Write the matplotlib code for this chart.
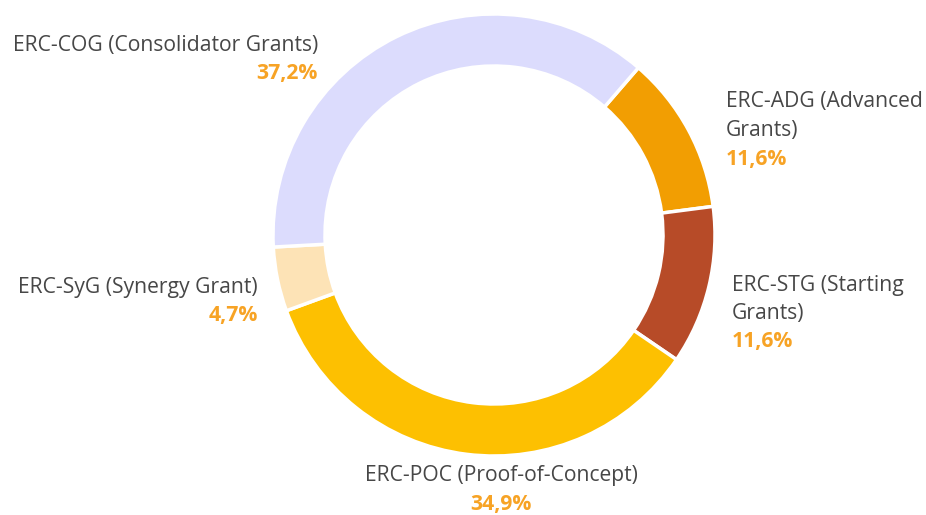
import matplotlib.pyplot as plt

# data
categories = ["ERC-ADG (Advanced Grants)", "ERC-STG (Starting Grants)",
              "ERC-POC (Proof-of-Concept)", "ERC-SyG (Synergy Grant)",
              "ERC-COG (Consolidator Grants)"]
label_lines = [["ERC-ADG (Advanced", "Grants)"],
               ["ERC-STG (Starting", "Grants)"],
               ["ERC-POC (Proof-of-Concept)"],
               ["ERC-SyG (Synergy Grant)"],
               ["ERC-COG (Consolidator Grants)"]]
shares = [11.6, 11.6, 34.9, 4.7, 37.2]
colors = ["#f29e02", "#b74b28", "#fdc001", "#fde3b6", "#dcdcfd"]

# label anchors in pixels (x, y of first line, alignment)
label_pos = [(726, 102, "left"), (732, 285, "left"), (501, 476, "center"),
             (258, 287, "right"), (318, 45, "right")]

W, H = 926, 515
plt.rcParams['font.family'] = ['Open Sans', 'DejaVu Sans']

fig = plt.figure(figsize=(W / 100, H / 100), dpi=100)
ax = fig.add_axes([0, 0, 1, 1])
ax.pie(shares, colors=colors, startangle=49.2, counterclock=False,
       center=(494, H - 235), radius=221,
       wedgeprops=dict(width=52, edgecolor="white", linewidth=2.5))
ax.set_xlim(0, W)
ax.set_ylim(0, H)
ax.axis("off")

step = 28.5
for lines, v, (x, y, ha) in zip(label_lines, shares, label_pos):
    for i, ln in enumerate(lines):
        ax.text(x, H - (y + i * step), ln, ha=ha, va="center",
                fontsize=15.2, color="#474747")
    pct = f"{v:.1f}%".replace(".", ",")
    ax.text(x, H - (y + len(lines) * step), pct, ha=ha, va="center",
            fontsize=15.2, fontweight="bold", color="#f7a325")

fig.savefig("out.png", dpi=100, facecolor="white")
